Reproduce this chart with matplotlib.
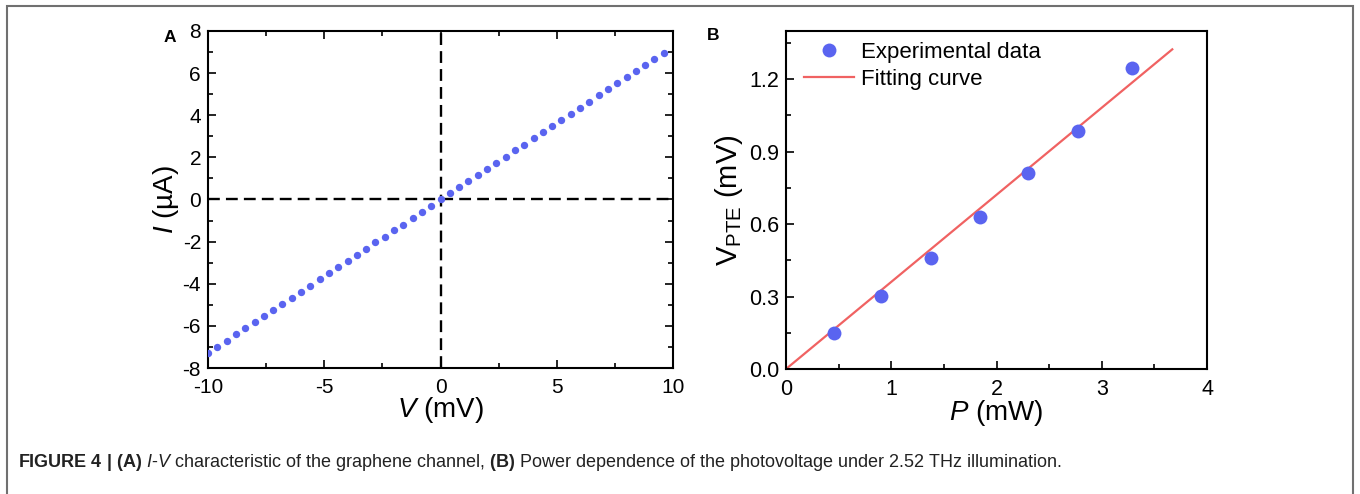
import matplotlib.pyplot as plt
from matplotlib.patches import Rectangle
from matplotlib.ticker import MultipleLocator

plt.rcParams['font.family'] = ['Liberation Sans', 'DejaVu Sans']
plt.rcParams['mathtext.fontset'] = 'custom'
plt.rcParams['mathtext.rm'] = 'Liberation Sans'
plt.rcParams['mathtext.it'] = 'Liberation Sans:italic'
plt.rcParams['mathtext.bf'] = 'Liberation Sans:bold'
plt.rcParams['axes.unicode_minus'] = False

# panel A: I-V sweep
volt = [-10.0, -9.6, -9.2, -8.8, -8.4, -8.0, -7.6, -7.2, -6.8, -6.4,
        -6.0, -5.6, -5.2, -4.8, -4.4, -4.0, -3.6, -3.2, -2.8, -2.4,
        -2.0, -1.6, -1.2, -0.8, -0.4, 0.0, 0.4, 0.8, 1.2, 1.6,
        2.0, 2.4, 2.8, 3.2, 3.6, 4.0, 4.4, 4.8, 5.2, 5.6,
        6.0, 6.4, 6.8, 7.2, 7.6, 8.0, 8.4, 8.8, 9.2, 9.6]
current = [-7.29, -7.00, -6.70, -6.40, -6.12, -5.82, -5.52, -5.23, -4.96, -4.66,
           -4.37, -4.09, -3.79, -3.49, -3.20, -2.92, -2.63, -2.35, -2.04, -1.76,
           -1.47, -1.19, -0.89, -0.60, -0.32, 0.00, 0.29, 0.57, 0.87, 1.16,
           1.44, 1.74, 2.03, 2.33, 2.61, 2.90, 3.19, 3.49, 3.77, 4.07,
           4.34, 4.64, 4.94, 5.23, 5.53, 5.81, 6.10, 6.40, 6.69, 6.97]

# panel B: photovoltage vs power
power = [0.46, 0.90, 1.38, 1.84, 2.30, 2.77, 3.29]
v_pte = [0.150, 0.301, 0.461, 0.629, 0.811, 0.987, 1.248]
fit_p = [0.0, 3.67]
fit_v = [0.0, 1.324]

blue = '#5a64f0'
red = '#f06262'

fig = plt.figure(figsize=(13.6, 4.94), dpi=100)

# outer frame of the figure box
fig.patches.append(Rectangle((7 / 1360, -0.05), 1346 / 1360, 1.05 - 6 / 494,
                             transform=fig.transFigure, fill=False,
                             edgecolor='#707070', linewidth=1.5))

# ---- A
ax1 = fig.add_axes([208 / 1360, 126 / 494, 465 / 1360, 337 / 494])
ax1.plot(volt, current, 'o', color=blue, markersize=5.3, markeredgewidth=0,
         zorder=3)
ax1.axhline(0, color='black', linestyle=(0, (5, 2.6)), linewidth=1.7, zorder=2)
ax1.axvline(0, color='black', linestyle=(0, (5, 2.6)), linewidth=1.7, zorder=2)
ax1.set_xlim(-10, 10)
ax1.set_ylim(-8, 8)
ax1.xaxis.set_major_locator(MultipleLocator(5))
ax1.xaxis.set_minor_locator(MultipleLocator(2.5))
ax1.yaxis.set_major_locator(MultipleLocator(2))
ax1.yaxis.set_minor_locator(MultipleLocator(1))
ax1.tick_params(which='both', direction='in', top=True, right=True,
                labelsize=15, width=1.2)
ax1.tick_params(axis='x', pad=7)
ax1.tick_params(axis='y', pad=5)
ax1.tick_params(which='major', length=6)
ax1.tick_params(which='minor', length=3.5)
ax1.set_xlabel(r'$\it{V}$ (mV)', fontsize=20, labelpad=-1)
ax1.set_ylabel(r'$\it{I}$ (µA)', fontsize=20, labelpad=1)
for s in ax1.spines.values():
    s.set_linewidth(1.5)
fig.text(170 / 1360, 1 - 38 / 494, 'A', fontsize=12.5, fontweight='bold',
         ha='center', va='center')

# ---- B
ax2 = fig.add_axes([786 / 1360, 125 / 494, 421 / 1360, 338 / 494])
ax2.plot(fit_p, fit_v, '-', color=red, linewidth=1.6, label='Fitting curve', zorder=2)
ax2.plot(power, v_pte, 'o', color=blue, markersize=10, markeredgewidth=0,
         label='Experimental data', zorder=3)
ax2.set_xlim(0, 4)
ax2.set_ylim(0, 1.4)
ax2.xaxis.set_major_locator(MultipleLocator(1))
ax2.xaxis.set_minor_locator(MultipleLocator(0.5))
ax2.yaxis.set_major_locator(MultipleLocator(0.3))
ax2.yaxis.set_minor_locator(MultipleLocator(0.15))
ax2.yaxis.set_major_formatter(lambda v, p: f'{v:.1f}')
ax2.tick_params(which='both', direction='in', labelsize=15.5, width=1.2)
ax2.tick_params(axis='x', pad=7)
ax2.tick_params(axis='y', pad=5)
ax2.tick_params(which='major', length=6)
ax2.tick_params(which='minor', length=3.5)
ax2.set_xlabel(r'$\it{P}$ (mW)', fontsize=20, labelpad=-1)
ax2.set_ylabel(r'$\mathregular{V_{PTE}}$ (mV)', fontsize=21, labelpad=3)
for s in ax2.spines.values():
    s.set_linewidth(1.5)
h, l = ax2.get_legend_handles_labels()
ax2.legend(h[::-1], l[::-1], loc='upper left', frameon=False, fontsize=16,
           handlelength=2.25, handletextpad=0.3, labelspacing=0.25,
           borderaxespad=0, borderpad=0,
           bbox_to_anchor=(18 / 421, 1 - 11 / 338))
fig.text(713 / 1360, 1 - 36 / 494, 'B', fontsize=12.5, fontweight='bold',
         ha='center', va='center')

# caption
fig.text(18 / 1360, 1 - 462 / 494,
         r'$\mathbf{FIGURE\ 4\ |\ (A)}$ $\it{I}$-$\it{V}$ characteristic of the graphene channel, '
         r'$\mathbf{(B)}$ Power dependence of the photovoltage under 2.52 THz illumination.',
         fontsize=13, ha='left', va='center', color='#222222')

fig.savefig('out.png', dpi=100)
